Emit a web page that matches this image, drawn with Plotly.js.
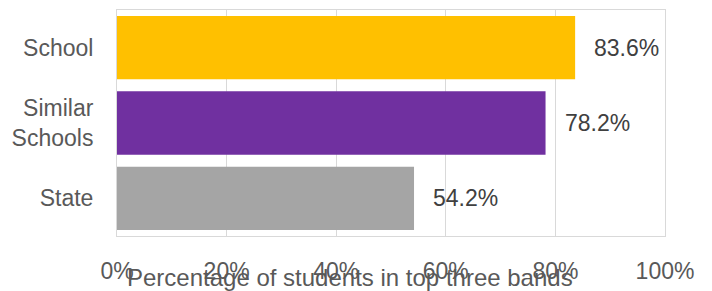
<!DOCTYPE html>
<html>
<head>
<meta charset="utf-8">
<script src="https://cdn.plot.ly/plotly-3.0.1.min.js"></script>
<style>html,body{margin:0;padding:0;background:#fff;}#chart{width:712px;height:291px;}</style>
</head>
<body>
<div id="chart"></div>
<script>
const categories = ['School', 'Similar<br>Schools', 'State'];
const values = [83.6, 78.2, 54.2];
const barColors = ['#FFC000', '#7030A0', '#A5A5A5'];
const tickValues = [0, 20, 40, 60, 80, 100];
const tickLabels = ['0%', '20%', '40%', '60%', '80%', '100%'];
const axisTitle = 'Percentage of students in top three bands';

const FONT = 'Liberation Sans, Arial, sans-serif';

const trace = {
  type: 'bar',
  orientation: 'h',
  y: categories,
  x: values,
  marker: {color: barColors},
  hoverinfo: 'none'
};

const annotations = values.map((v, i) => ({
  x: v, y: categories[i], xref: 'x', yref: 'y',
  text: v.toFixed(1) + '%',
  showarrow: false, xanchor: 'left', yanchor: 'middle',
  xshift: 17,
  font: {family: FONT, size: 23, color: '#404040'}
}));
annotations.push({
  x: 0.425, y: -0.25, xref: 'paper', yref: 'paper',
  xanchor: 'center', yanchor: 'bottom',
  text: axisTitle, showarrow: false,
  font: {family: FONT, size: 24, color: '#595959'}
});

const layout = {
  width: 712, height: 291,
  margin: {l: 117, r: 47, t: 10, b: 55},
  paper_bgcolor: '#fff', plot_bgcolor: '#fff',
  showlegend: false,
  bargap: 0.16,
  font: {family: FONT, size: 23, color: '#595959'},
  xaxis: {
    range: [0, 100],
    tickvals: tickValues, ticktext: tickLabels,
    showgrid: true, gridcolor: '#D9D9D9', gridwidth: 1,
    zeroline: false,
    showline: true, linecolor: '#D9D9D9', linewidth: 1, mirror: true,
    ticklabelstandoff: 14,
    tickfont: {family: FONT, size: 23, color: '#595959'},
    fixedrange: true
  },
  yaxis: {
    autorange: 'reversed',
    showgrid: false, zeroline: false,
    showline: true, linecolor: '#D9D9D9', linewidth: 1, mirror: true,
    ticklabelstandoff: 18,
    tickfont: {family: FONT, size: 23, color: '#595959'},
    fixedrange: true
  },
  annotations: annotations
};

Plotly.newPlot('chart', [trace], layout, {staticPlot: true, displayModeBar: false});
</script>
</body>
</html>
